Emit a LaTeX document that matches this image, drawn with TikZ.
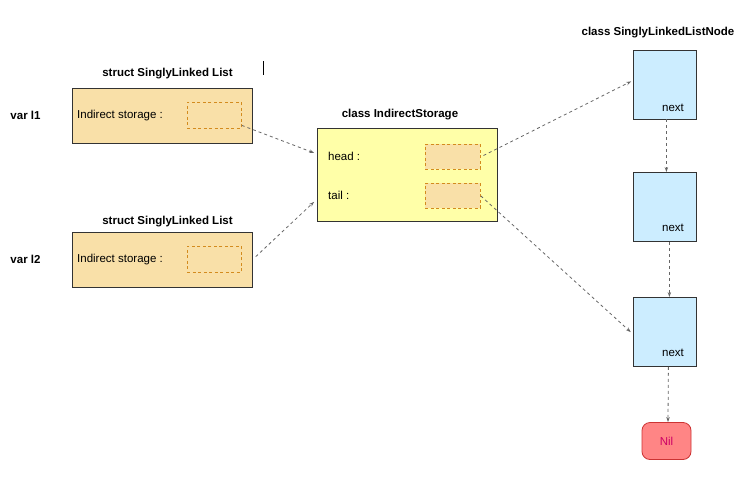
\documentclass[tikz,border=0pt]{standalone}
\usepackage{fontspec}
\setmainfont{Liberation Sans}
\usetikzlibrary{arrows.meta}
\definecolor{orfill}{HTML}{F9E0A8}
\definecolor{orline}{HTML}{D38B1E}
\definecolor{yefill}{HTML}{FFFFA8}
\definecolor{blfill}{HTML}{CCEDFF}
\definecolor{nilfill}{HTML}{FF8585}
\definecolor{nilline}{HTML}{CC3333}
\definecolor{niltext}{HTML}{CC0066}
\definecolor{edge}{HTML}{333333}
\definecolor{conn}{HTML}{666666}
\tikzset{
  txt/.style={font=\fontsize{11.5}{13}\selectfont, inner sep=0pt},
  ttl/.style={font=\fontsize{11.5}{13}\selectfont\bfseries, inner sep=0pt},
  outerbox/.style={draw=edge, line width=0.8pt, inner sep=0pt, anchor=north west},
  slot/.style={draw=orline, fill=orfill, dash pattern=on 3pt off 2.5pt, line width=0.8pt, inner sep=0pt, anchor=north west, minimum width=54pt, minimum height=26pt},
  listnode/.style={outerbox, fill=blfill, minimum width=63pt, minimum height=69pt},
  link/.style={draw=conn, line width=0.8pt, dash pattern=on 3pt off 3pt, -{Stealth[length=5pt,width=3.5pt]}},
}
\begin{document}
\begin{tikzpicture}[x=1pt,y=-1pt]
\useasboundingbox (0,0) rectangle (748,491);

% caret
\draw[line width=0.8pt] (263,61) -- (263,75);

% struct l1
\node[ttl] (t1) at (167.5,74) {struct SinglyLinked List};
\node[ttl] (v1) at (25.5,115) {var l1};
\node[outerbox, fill=orfill, minimum width=180pt, minimum height=55pt] (l1) at (72,87.5) {};
\node[txt, anchor=west] (s1) at (77,115.5) {Indirect storage :};
\node[slot] (l1s) at (187,102) {};

% struct l2
\node[ttl] (t2) at (167.5,222) {struct SinglyLinked List};
\node[ttl] (v2) at (25.5,259) {var l2};
\node[outerbox, fill=orfill, minimum width=180pt, minimum height=55pt] (l2) at (72,231.5) {};
\node[txt, anchor=west] (s2) at (77,259.5) {Indirect storage :};
\node[slot] (l2s) at (187,246) {};

% IndirectStorage
\node[ttl] (t3) at (400,115) {class IndirectStorage};
\node[outerbox, fill=yefill, minimum width=180pt, minimum height=93pt] (is) at (317,128) {};
\node[txt, anchor=west] (hd) at (328,156) {head :};
\node[txt, anchor=west] (tl) at (328,195.5) {tail :};
\node[slot, minimum width=55pt, minimum height=25pt] (hs) at (425,144) {};
\node[slot, minimum width=55pt, minimum height=25pt] (ts) at (425,183) {};

% list nodes
\node[ttl] (t4) at (658,33) {class SinglyLinkedListNode};
\node[listnode] (n1) at (633,49.5) {};
\node[listnode] (n2) at (633,172) {};
\node[listnode] (n3) at (633,297) {};
\node[txt] (x1) at (673,108) {next};
\node[txt] (x2) at (673,227.5) {next};
\node[txt] (x3) at (673,353) {next};
\node[draw=nilline, fill=nilfill, line width=0.8pt, rounded corners=8pt, minimum width=49pt, minimum height=37pt, text=niltext, font=\fontsize{11.5}{13}\selectfont, inner sep=0pt] (nil) at (666.5,441) {Nil};

% connectors
\draw[link, shorten >=3pt] (l1s.-20) -- (is.167);
\draw[link, shorten <=4pt, shorten >=4pt] (l2.east) -- (is.195);
\draw[link, shorten <=3pt, shorten >=2pt] (hs.east) -- (n1.173);
\draw[link, shorten >=3pt] (ts.east) -- (n3.184);
\draw[link] ([xshift=1.5pt]n1.south) -- ([xshift=1.5pt]n2.north);
\draw[link] ([xshift=4.5pt]n2.south) -- ([xshift=4.5pt]n3.north);
\draw[link] ([xshift=3.5pt]n3.south) -- ([xshift=1.5pt]nil.north);
\end{tikzpicture}
\end{document}
